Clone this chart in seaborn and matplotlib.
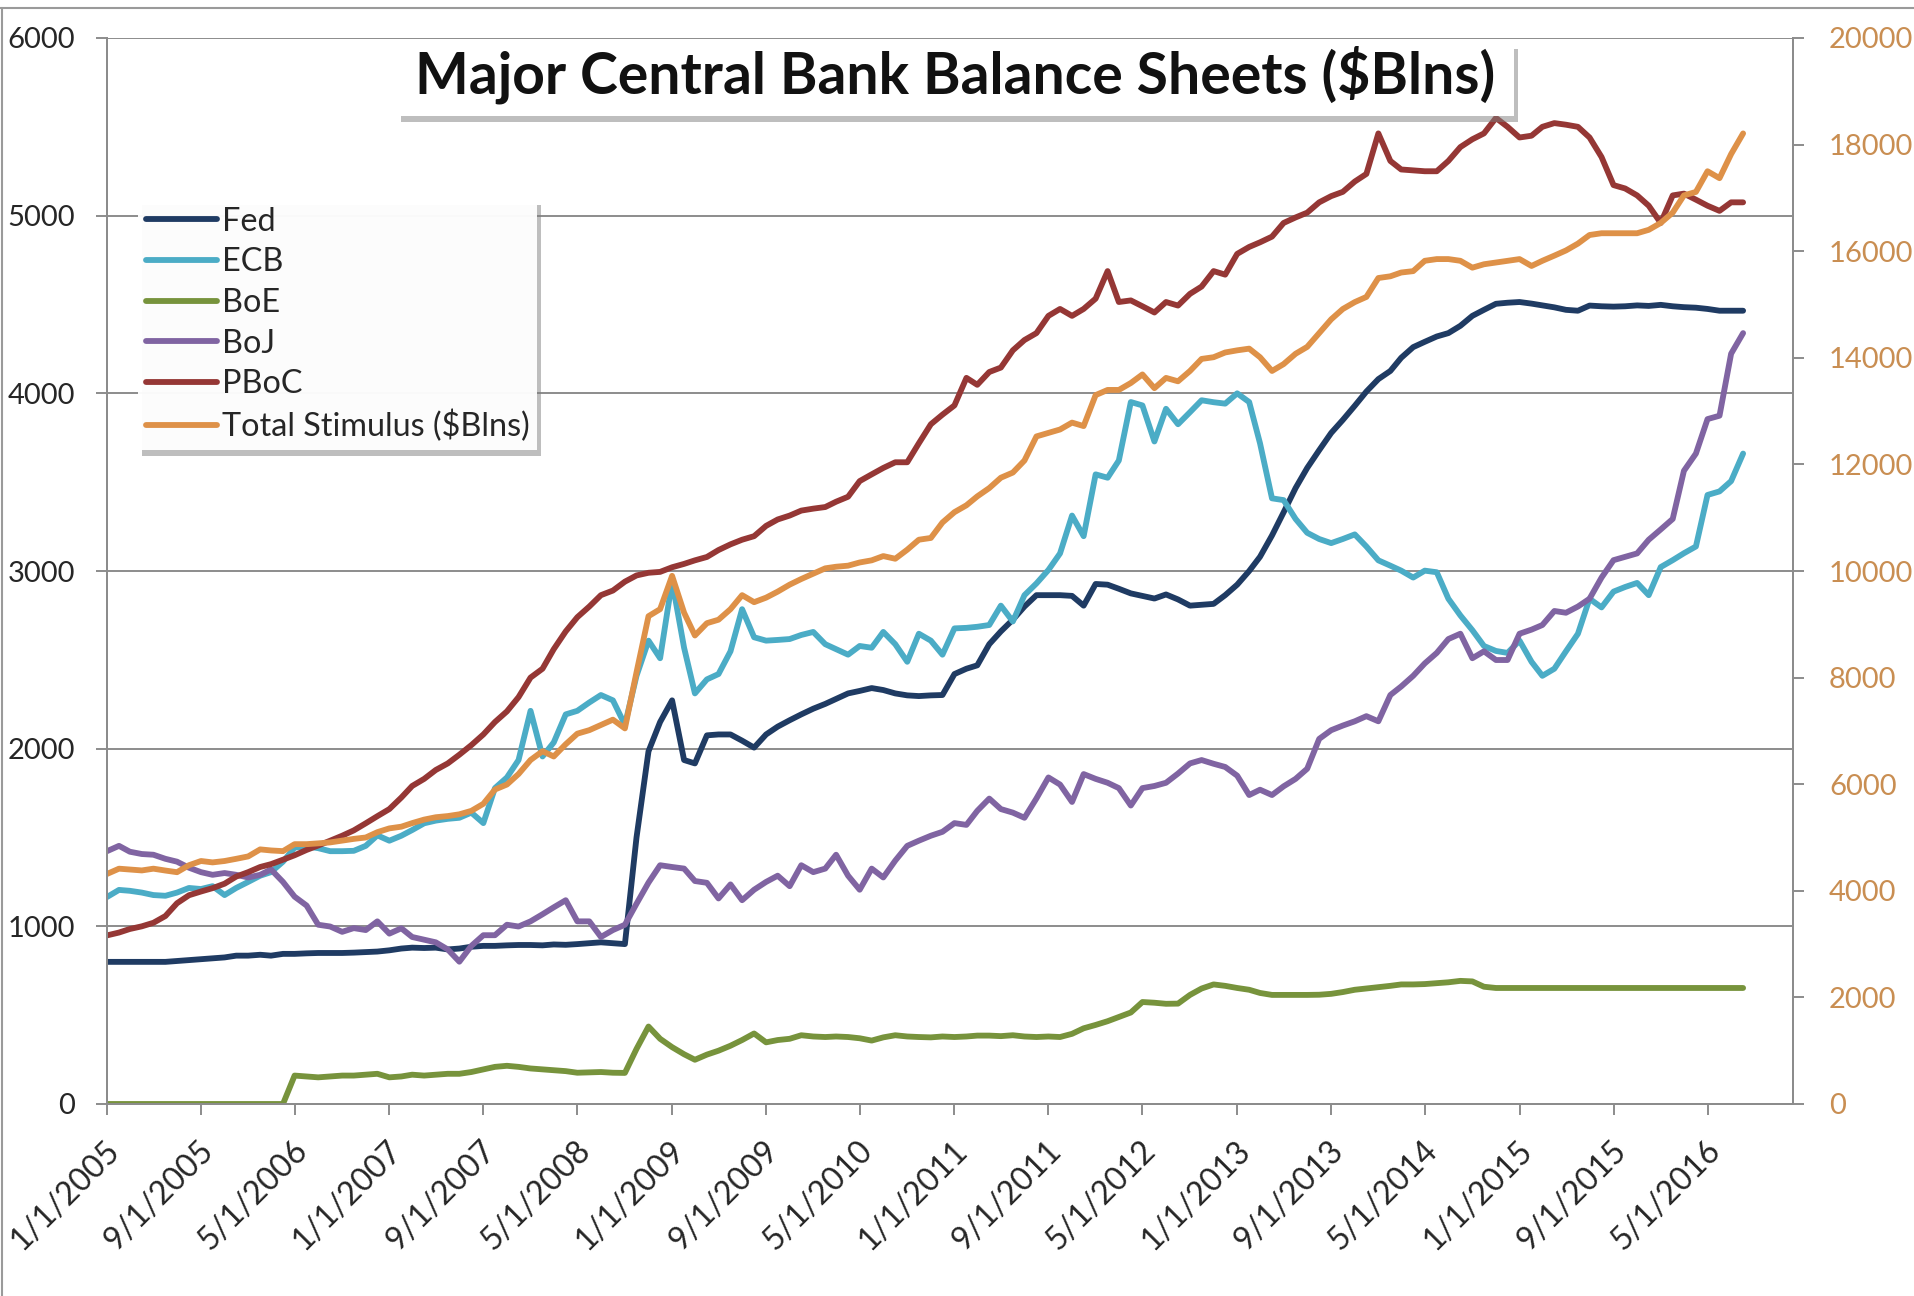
import matplotlib
matplotlib.use('Agg')
import matplotlib.pyplot as plt
import matplotlib.patheffects as pe
import matplotlib.transforms as mtrans
from matplotlib.lines import Line2D
from matplotlib.patches import Rectangle
import pandas as pd
import seaborn as sns

months = pd.date_range('2005-01-01', periods=140, freq='MS')

fed = [800, 800, 800, 800, 800, 800, 805, 810, 815, 820, 825, 835,
       835, 840, 835, 845, 845, 848, 850, 850, 850, 852, 855, 858,
       865, 875, 880, 878, 880, 870, 875, 885, 890, 890, 893, 895,
       895, 893, 898, 896, 900, 905, 910, 905, 900, 1500, 1985, 2150,
       2272, 1936, 1917, 2075, 2080, 2080, 2045, 2006, 2080, 2124, 2160, 2193,
       2225, 2252, 2280, 2311, 2325, 2341, 2330, 2311, 2300, 2296, 2300, 2302,
       2420, 2450, 2469, 2588, 2660, 2726, 2800, 2864, 2864, 2864, 2860, 2805,
       2927, 2923, 2900, 2874, 2860, 2845, 2868, 2840, 2805, 2810, 2815, 2864,
       2923, 3000, 3080, 3200, 3330, 3467, 3580, 3680, 3777, 3850, 3930, 4010,
       4080, 4126, 4200, 4260, 4290, 4320, 4339, 4380, 4436, 4470, 4504, 4510,
       4514, 4505, 4495, 4484, 4470, 4465, 4494, 4490, 4488, 4490, 4495, 4492,
       4498, 4490, 4485, 4482, 4475, 4465, 4465, 4465]

ecb = [1165, 1205, 1200, 1190, 1176, 1172, 1190, 1216, 1210, 1226, 1176, 1216,
       1250, 1285, 1305, 1364, 1443, 1450, 1440, 1423, 1423, 1425, 1453, 1512,
       1482, 1510, 1542, 1580, 1595, 1605, 1611, 1640, 1581, 1778, 1838, 1936,
       2213, 1956, 2035, 2193, 2213, 2260, 2302, 2272, 2134, 2410, 2608, 2509,
       2943, 2568, 2311, 2390, 2420, 2548, 2785, 2627, 2608, 2612, 2617, 2640,
       2657, 2588, 2560, 2529, 2578, 2568, 2657, 2588, 2489, 2647, 2608, 2529,
       2677, 2680, 2686, 2696, 2805, 2716, 2864, 2930, 3006, 3099, 3312, 3196,
       3544, 3525, 3622, 3951, 3932, 3729, 3913, 3826, 3894, 3961, 3950, 3942,
       4000, 3951, 3719, 3409, 3399, 3293, 3215, 3180, 3157, 3180, 3206, 3138,
       3060, 3030, 3002, 2963, 3002, 2993, 2844, 2750, 2667, 2578, 2550, 2539,
       2608, 2489, 2410, 2450, 2548, 2647, 2844, 2795, 2884, 2910, 2933, 2864,
       3022, 3061, 3100, 3138, 3428, 3448, 3506, 3661]

boe = [0, 0, 0, 0, 0, 0, 0, 0, 0, 0, 0, 0, 0, 0, 0, 0,
       160, 155, 150, 155, 160, 160, 165, 170, 150, 155, 165, 160,
       165, 170, 170, 180, 195, 209, 215, 209, 200, 195, 190, 185,
       176, 178, 180, 176, 175, 310, 436, 367, 320, 280, 249, 278,
       300, 328, 360, 397, 347, 360, 367, 387, 380, 377, 380, 377,
       370, 357, 375, 387, 380, 377, 375, 380, 377, 380, 385, 385,
       382, 387, 380, 377, 380, 377, 395, 426, 445, 466, 490, 515,
       574, 570, 564, 565, 614, 650, 673, 665, 653, 643, 625, 614,
       614, 614, 614, 615, 620, 630, 643, 650, 657, 665, 673, 673,
       675, 680, 685, 693, 690, 660, 653, 653, 653, 653, 653, 653,
       653, 653, 653, 653, 653, 653, 653, 653, 653, 653, 653, 653,
       653, 653, 653, 653]

boj = [1423, 1453, 1420, 1407, 1403, 1380, 1364, 1330, 1305, 1290, 1300, 1290,
       1275, 1290, 1320, 1250, 1167, 1117, 1009, 999, 969, 990, 979, 1028,
       959, 989, 940, 925, 910, 870, 801, 890, 950, 950, 1009, 999,
       1028, 1068, 1107, 1147, 1028, 1028, 940, 979, 1009, 1127, 1246, 1344,
       1334, 1325, 1255, 1245, 1157, 1236, 1147, 1206, 1250, 1285, 1226, 1344,
       1305, 1325, 1403, 1285, 1206, 1325, 1275, 1370, 1453, 1482, 1510, 1532,
       1581, 1571, 1650, 1719, 1660, 1640, 1611, 1720, 1838, 1798, 1700, 1857,
       1830, 1808, 1778, 1680, 1778, 1790, 1808, 1860, 1917, 1936, 1915, 1897,
       1848, 1739, 1769, 1739, 1788, 1830, 1887, 2055, 2104, 2130, 2154, 2183,
       2154, 2302, 2350, 2410, 2480, 2539, 2617, 2647, 2509, 2548, 2499, 2499,
       2647, 2670, 2696, 2775, 2765, 2800, 2844, 2963, 3061, 3080, 3099, 3176,
       3234, 3293, 3564, 3661, 3855, 3874, 4223, 4339]

pboc = [949, 965, 985, 1000, 1020, 1058, 1130, 1175, 1196, 1215, 1240, 1280,
        1305, 1334, 1350, 1375, 1400, 1430, 1455, 1482, 1510, 1540, 1580, 1620,
        1660, 1725, 1790, 1830, 1880, 1917, 1966, 2020, 2080, 2150, 2210, 2290,
        2400, 2450, 2560, 2660, 2740, 2800, 2864, 2890, 2940, 2975, 2990, 2995,
        3021, 3040, 3060, 3079, 3118, 3150, 3176, 3196, 3254, 3290, 3312, 3340,
        3351, 3360, 3390, 3418, 3506, 3544, 3580, 3612, 3612, 3719, 3826, 3880,
        3932, 4087, 4048, 4120, 4145, 4242, 4300, 4339, 4436, 4475, 4436, 4475,
        4533, 4688, 4514, 4523, 4490, 4455, 4514, 4494, 4560, 4601, 4688, 4668,
        4785, 4824, 4850, 4882, 4959, 4990, 5017, 5075, 5110, 5134, 5192, 5235,
        5463, 5308, 5260, 5255, 5250, 5250, 5308, 5386, 5430, 5463, 5550, 5500,
        5440, 5450, 5500, 5521, 5512, 5500, 5440, 5330, 5172, 5153, 5114, 5056,
        4959, 5114, 5124, 5090, 5056, 5027, 5075, 5075]

total = [4316, 4415, 4400, 4382, 4415, 4380, 4349, 4480, 4559, 4533, 4559, 4600,
         4645, 4777, 4757, 4744, 4875, 4875, 4890, 4908, 4941, 4974, 5000, 5100,
         5171, 5203, 5270, 5336, 5380, 5402, 5435, 5500, 5632, 5900, 5994, 6191,
         6454, 6619, 6520, 6750, 6948, 7014, 7112, 7211, 7047, 8099, 9152, 9284,
         9909, 9218, 8790, 9021, 9086, 9284, 9547, 9415, 9500, 9613, 9744, 9850,
         9950, 10050, 10080, 10100, 10160, 10200, 10280, 10230, 10400, 10587, 10620, 10910,
         11104, 11233, 11400, 11556, 11750, 11847, 12073, 12525, 12590, 12655, 12784, 12719,
         13300, 13397, 13397, 13527, 13688, 13430, 13623, 13559, 13753, 13979, 14011, 14100,
         14140, 14172, 14011, 13753, 13882, 14076, 14205, 14463, 14722, 14915, 15045, 15142,
         15497, 15529, 15600, 15626, 15820, 15852, 15852, 15820, 15691, 15755, 15788, 15820,
         15852, 15723, 15820, 15917, 16014, 16143, 16304, 16337, 16337, 16337, 16337, 16401,
         16530, 16724, 17047, 17112, 17500, 17370, 17822, 18210]

banks = ['Fed', 'ECB', 'BoE', 'BoJ', 'PBoC']
bank_colors = ['#1F3B63', '#4BACC6', '#77933C', '#8064A2', '#953735']
total_label = 'Total Stimulus ($Blns)'
total_color = '#DE9148'
tick_dates = pd.date_range('2005-01-01', '2016-05-01', freq='8MS')
tick_labels = [f'{d.month}/{d.day}/{d.year}' for d in tick_dates]

sns.set_theme(style='white')
plt.rcParams['font.family'] = ['Lato', 'DejaVu Sans']

W, H = 1915, 1296
fig = plt.figure(figsize=(W / 100, H / 100), dpi=100)
ax = fig.add_axes([107 / W, 1 - 1104 / H, (1793 - 107) / W, (1104 - 38) / H])

df = pd.DataFrame({'date': months, 'Fed': fed, 'ECB': ecb, 'BoE': boe,
                   'BoJ': boj, 'PBoC': pboc})
long = df.melt(id_vars='date', var_name='bank', value_name='bln')
lw = 4.2
sns.lineplot(data=long, x='date', y='bln', hue='bank', hue_order=banks,
             palette=bank_colors, linewidth=lw, ax=ax, legend=False)

grid_c = '#8C8C8C'
ax.set_ylim(0, 6000)
ax.set_yticks(range(0, 6001, 1000))
ax.set_xlim(pd.Timestamp('2005-01-01'), pd.Timestamp('2016-12-08'))
ax.yaxis.grid(True, color=grid_c, lw=1.4)
ax.xaxis.grid(False)
ax.set_xlabel('')
ax.set_ylabel('')
for side in ['left', 'bottom', 'right']:
    ax.spines[side].set_color(grid_c)
    ax.spines[side].set_linewidth(1.4)
ax.spines['top'].set_visible(False)
ax.tick_params(axis='y', left=True, length=8, width=1.4, color=grid_c,
               pad=15, labelsize=21, labelcolor='#262626')
ax.tick_params(axis='x', bottom=True, length=8, width=1.4, color=grid_c,
               pad=22, labelsize=23, labelcolor='#262626')
ax.set_xticks(tick_dates)
ax.set_xticklabels(tick_labels, rotation=45, ha='right', va='center',
                   rotation_mode='anchor')
shift = mtrans.ScaledTranslation(0.08, 0, fig.dpi_scale_trans)
for lab in ax.get_xticklabels():
    lab.set_transform(lab.get_transform() + shift)

# total on the right-hand axis
ax2 = ax.twinx()
sns.lineplot(x=months, y=total, color=total_color, linewidth=lw, ax=ax2)
ax2.set_ylim(0, 20000)
ax2.set_yticks(range(0, 20001, 2000))
ax2.grid(False)
ax2.set_ylabel('')
ax2.spines['top'].set_visible(False)
for side in ['left', 'bottom', 'right']:
    ax2.spines[side].set_color(grid_c)
    ax2.spines[side].set_linewidth(1.4)
ax2.tick_params(axis='y', right=True, length=8, width=1.4, color=grid_c,
                pad=18, labelsize=21, labelcolor='#C98E52')

shadow = [pe.withSimplePatchShadow(offset=(3, -4), shadow_rgbFace='#7F7F7F', alpha=0.5),
          pe.Normal()]

# legend with drop shadow
handles = [Line2D([0], [0], color=c, lw=lw) for c in bank_colors]
handles.append(Line2D([0], [0], color=total_color, lw=lw))
leg = ax2.legend(handles, banks + [total_label], loc='upper left',
                 bbox_to_anchor=(138 / W, 1 - 199 / H), bbox_transform=fig.transFigure,
                 frameon=True, fancybox=False, fontsize=23.3, handlelength=2.2,
                 handletextpad=0.15, labelspacing=0.33, borderpad=0.24,
                 borderaxespad=0)
leg.get_frame().set_facecolor('white')
leg.get_frame().set_edgecolor('none')
leg.get_frame().set_path_effects(shadow)
for txt in leg.get_texts():
    txt.set_color('#262626')

# boxed title with shadow
fig.add_artist(Rectangle((397 / W, 1 - 116 / H), 1117 / W, 73 / H,
                         transform=fig.transFigure, fc='white', ec='none',
                         zorder=4, path_effects=shadow))
fig.text(955.5 / W, 1 - 94 / H, 'Major Central Bank Balance Sheets ($Blns)',
         ha='center', va='baseline', fontsize=41, fontweight='bold',
         color='#111111', zorder=5)

# chart-area border (top and left edges)
fig.add_artist(Line2D([0, 1], [1 - 8 / H] * 2, transform=fig.transFigure,
                      color='#9A9A9A', lw=1.5))
fig.add_artist(Line2D([2 / W] * 2, [0, 1 - 8 / H], transform=fig.transFigure,
                      color='#9A9A9A', lw=1.5))

fig.savefig('out.png', dpi=100, facecolor='white')
